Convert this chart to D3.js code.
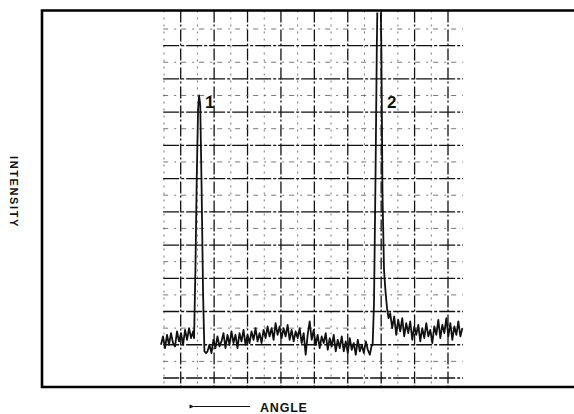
<!DOCTYPE html>
<html>
<head>
<meta charset="utf-8">
<script src="https://cdn.jsdelivr.net/npm/d3@7"></script>
<style>
body { margin: 0; background: #fff; }
svg { display: block; }
text { font-family: "Liberation Sans", Arial, sans-serif; font-weight: bold; fill: #111; }
</style>
</head>
<body>
<svg id="chart" width="574" height="414"></svg>
<script>
// grid divisions: angle across, intensity up
var gridX = [0, 1, 2, 3, 4, 5, 6, 7, 8, 9, 10, 11, 12, 13, 14, 15, 16, 17];
var gridY = [0, 1, 2, 3, 4, 5, 6, 7, 8, 9, 10, 11, 12, 13, 14, 15, 16, 17, 18, 19, 20, 21];

// baseline noise, sampled every 0.12 div
var sampleStep = 0.12;
var noiseLeftStart = -0.18;
var noiseLeft = [2.0, 2.5, 1.8, 2.6, 2.0, 2.7, 2.1, 1.9, 2.8, 2.2, 2.7, 2.0, 2.9, 2.3, 3.0, 2.4, 2.8];

var noiseMidStart = 2.6;
var noiseMid = [1.6, 2.0, 1.5, 2.3, 1.8, 2.5, 1.9,
    2.2, 2.7, 1.8, 2.6, 2.0, 2.8, 2.1, 2.6, 1.8, 2.7, 2.2, 2.9, 2.0,
    2.6, 2.1, 2.8, 2.3, 3.0, 2.2, 2.7, 2.1, 2.9, 2.4, 3.1, 2.5, 3.0, 2.3, 3.3, 2.6,
    3.1, 2.4, 3.0, 2.5, 3.2, 2.3, 2.9, 2.2, 2.8, 2.4, 3.0, 2.1, 2.7, 1.4, 2.6, 3.4,
    2.3, 2.9, 2.0, 2.6, 1.8, 2.5, 2.1, 2.7, 1.7, 2.4, 1.9, 2.6, 1.6, 2.3, 1.8, 2.5,
    1.6, 2.2, 1.5, 2.4, 1.7, 2.1, 1.4, 2.3, 1.6, 2.0, 1.5, 2.2, 1.7, 1.4, 2.0];

var noiseRightStart = 13.54;
var noiseRight = [3.9, 3.0, 3.7, 2.6, 3.5, 2.8, 3.6, 2.5, 3.3, 2.7,
    3.4, 2.3, 3.1, 2.6, 3.2, 2.2, 3.0, 2.4, 3.3, 2.5,
    2.9, 2.1, 3.1, 2.6, 3.5, 2.4, 3.2, 2.7, 3.6, 2.5,
    3.3, 2.3, 3.1, 2.6, 3.4, 2.5, 3.0];

// the two reflection peaks [angle, intensity]
var peak1 = [[1.80, 2.4], [1.88, 6.5], [1.96, 12.0], [2.04, 16.2], [2.10, 17.0], [2.17, 16.4],
    [2.25, 11.5], [2.34, 5.0], [2.42, 1.6], [2.52, 1.5]];
var peak2 = [[12.49, 2.0], [12.57, 4.5], [12.66, 12.0], [12.74, 20.0], [12.81, 25.0], [12.93, 25.0],
    [13.01, 20.0], [13.08, 11.0], [13.17, 6.5], [13.26, 5.2], [13.35, 4.2], [13.44, 3.6]];

var peakLabels = ["1", "2"];
var peakTops = [[2.10, 17.0], [12.87, 17.0]];

var frame = { left: 42, top: 10.5, bottom: 387, right: 574 };

var svg = d3.select("#chart");

var x = d3.scaleLinear().domain([0, 17]).range([164, 448]);
var y = d3.scaleLinear().domain([0, 21]).range([378, 29]);

function samples(start, vals) {
    return vals.map((v, i) => [start + i * sampleStep, v]);
}

// grid: odd verticals and even horizontals are the heavier lines
var grid = svg.append("g").attr("fill", "none");

grid.selectAll(".vline")
    .data(gridX)
    .enter()
    .append("line")
    .attr("x1", d => x(d))
    .attr("x2", d => x(d))
    .attr("y1", frame.top)
    .attr("y2", frame.bottom)
    .attr("stroke", d => d % 2 ? "#111" : "#555")
    .attr("stroke-width", d => d % 2 ? 1.3 : 0.8)
    .attr("stroke-dasharray", d => d % 2 ? "12,2,2,3" : "2,5");

grid.selectAll(".hline")
    .data(gridY)
    .enter()
    .append("line")
    .attr("x1", x(-0.05))
    .attr("x2", x(17.9))
    .attr("y1", d => y(d))
    .attr("y2", d => y(d))
    .attr("stroke", d => d % 2 ? "#555" : "#111")
    .attr("stroke-width", d => d % 2 ? 0.8 : 1.3)
    .attr("stroke-dasharray", d => d % 2 ? "5,6,2,5" : "16,2,3,2");

// frame (open on the right)
svg.append("path")
    .attr("d", `M${frame.right},${frame.top}H${frame.left}V${frame.bottom}H${frame.right}`)
    .attr("fill", "none")
    .attr("stroke", "#000")
    .attr("stroke-width", 2.6);

// trace
svg.append("clipPath").attr("id", "clip")
    .append("rect")
    .attr("x", frame.left)
    .attr("y", frame.top + 2)
    .attr("width", frame.right - frame.left)
    .attr("height", frame.bottom - frame.top - 2);

var trace = samples(noiseLeftStart, noiseLeft)
    .concat(peak1, samples(noiseMidStart, noiseMid), peak2, samples(noiseRightStart, noiseRight));

var line = d3.line().x(d => x(d[0])).y(d => y(d[1]));

svg.append("path")
    .datum(trace)
    .attr("clip-path", "url(#clip)")
    .attr("d", line)
    .attr("fill", "none")
    .attr("stroke", "#111")
    .attr("stroke-width", 1.8)
    .attr("stroke-linejoin", "round");

svg.selectAll(".peak-label")
    .data(peakTops)
    .enter()
    .append("text")
    .attr("x", (d, i) => x(d[0]) + (i ? 8 : 6))
    .attr("y", d => y(d[1]) + 13)
    .attr("font-size", 17)
    .text((d, i) => peakLabels[i]);

// axis titles
svg.append("text")
    .attr("transform", "translate(10,192) rotate(90)")
    .attr("text-anchor", "middle")
    .attr("font-size", 11)
    .attr("letter-spacing", 1.6)
    .text("INTENSITY");

svg.append("defs").append("marker")
    .attr("id", "arrow")
    .attr("viewBox", "0 0 10 10")
    .attr("refX", 1)
    .attr("refY", 5)
    .attr("markerWidth", 8)
    .attr("markerHeight", 5)
    .attr("markerUnits", "userSpaceOnUse")
    .attr("orient", "auto")
    .append("path")
    .attr("d", "M10,1L0,5L10,9Z")
    .attr("fill", "#111");

svg.append("line")
    .attr("x1", 250)
    .attr("x2", 194)
    .attr("y1", 406.5)
    .attr("y2", 406.5)
    .attr("stroke", "#111")
    .attr("stroke-width", 1.2)
    .attr("marker-end", "url(#arrow)");

svg.append("text")
    .attr("x", 260)
    .attr("y", 411.5)
    .attr("font-size", 12.5)
    .attr("letter-spacing", 0.8)
    .text("ANGLE");
</script>
</body>
</html>
